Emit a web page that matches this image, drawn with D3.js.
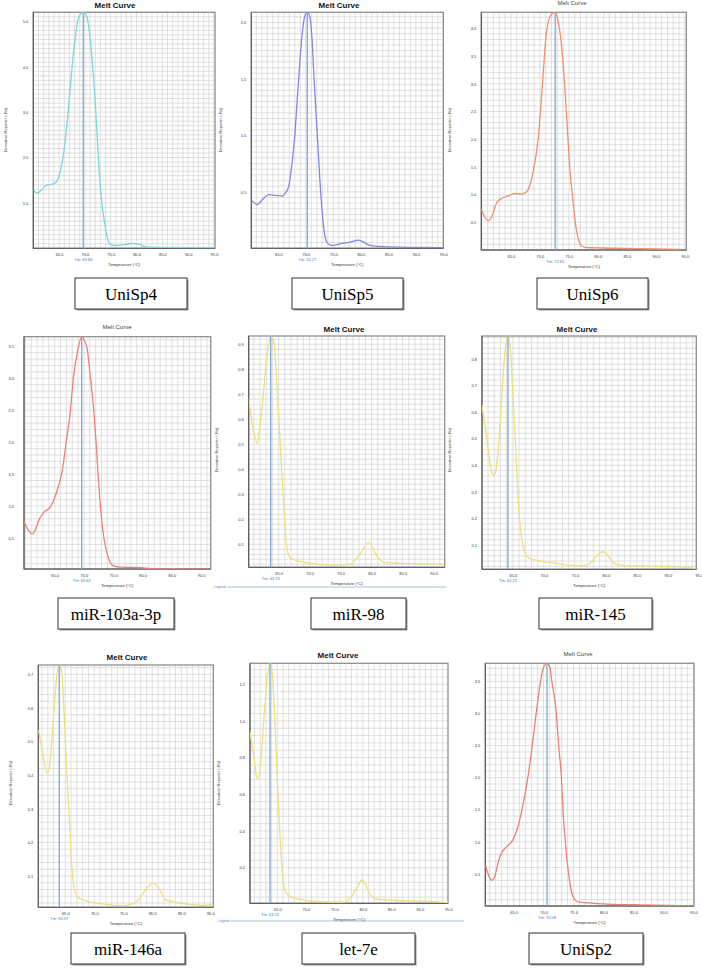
<!DOCTYPE html>
<html>
<head>
<meta charset="utf-8">
<script src="https://cdn.jsdelivr.net/npm/d3@7"></script>
<style>
  body { margin: 0; background: #fff; }
  svg { display: block; }
</style>
</head>
<body>
<script>
const width = 702;
const height = 968;

// sample names in reading order (3 x 3)
const names = ["UniSp4", "UniSp5", "UniSp6", "miR-103a-3p", "miR-98", "miR-145", "miR-146a", "let-7e", "UniSp2"];
const tmValues = [69.68, 70.27, 72.65, 69.62, 63.73, 64.21, 63.97, 63.72, 70.58];

// axis ranges and ticks
const xDomains = [[60.0, 95.2], [60.09, 95.0], [59.9, 95.25], [59.77, 91.63], [60.18, 91.8], [60.02, 94.6], [60.35, 90.52], [60.21, 94.95], [60.28, 95.1]];
const yDomains = [[0, 5.2], [0, 2.09], [0, 4.29], [0.015, 3.65], [0.008, 0.933], [0.009, 0.886], [0.007, 0.728], [0.006, 1.314], [0, 3.78]];
const xTicks = [
  [65, 70, 75, 80, 85, 90, 95], [65, 70, 75, 80, 85, 90, 95], [65, 70, 75, 80, 85, 90, 95],
  [65, 70, 75, 80, 85, 90], [65, 70, 75, 80, 85, 90], [65, 70, 75, 80, 85, 90, 95],
  [65, 70, 75, 80, 85, 90], [65, 70, 75, 80, 85, 90, 95], [65, 70, 75, 80, 85, 90, 95]
];
const yTicks = [
  [1, 2, 3, 4, 5],
  [0.5, 1, 1.5, 2],
  [0.5, 1, 1.5, 2, 2.5, 3, 3.5, 4],
  [0.5, 1, 1.5, 2, 2.5, 3, 3.5],
  [0.1, 0.2, 0.3, 0.4, 0.5, 0.6, 0.7, 0.8, 0.9],
  [0.1, 0.2, 0.3, 0.4, 0.5, 0.6, 0.7, 0.8],
  [0.1, 0.2, 0.3, 0.4, 0.5, 0.6, 0.7],
  [0.2, 0.4, 0.6, 0.8, 1.0, 1.2],
  [0.5, 1, 1.5, 2, 2.5, 3, 3.5]
];
const yGridSteps = [0.1, 0.05, 0.1, 0.1, 0.02, 0.02, 0.02, 0.04, 0.1];

// melt curves: [temperature, derivative reporter]
const uniSp4 = [[60.0, 1.28], [60.78, 1.22], [61.6, 1.29], [62.57, 1.39], [63.4, 1.41], [63.86, 1.42], [64.5, 1.47], [65.3, 1.73], [65.97, 2.17], [66.6, 2.83], [67.24, 3.64], [67.9, 4.44], [68.65, 5.03], [69.2, 5.17], [69.69, 5.2], [70.1, 5.16], [70.47, 5.07], [70.97, 4.66], [71.5, 4.0], [72.09, 3.05], [72.6, 2.0], [73.05, 1.28], [73.44, 0.85], [73.9, 0.49], [74.35, 0.23], [75.0, 0.085], [75.8, 0.06], [77.4, 0.075], [78.6, 0.1], [79.35, 0.11], [80.3, 0.095], [81.9, 0.032], [85.8, 0.02], [92.3, 0.01], [95.2, 0.008]];
const uniSp5 = [[60.09, 0.426], [61.2, 0.388], [62.1, 0.43], [63.3, 0.476], [64.5, 0.468], [65.7, 0.462], [66.3, 0.49], [66.9, 0.55], [67.5, 0.757], [68.0, 1.0], [68.4, 1.29], [68.7, 1.5], [69.3, 1.877], [69.8, 2.054], [70.27, 2.09], [70.7, 2.054], [71.1, 1.88], [71.5, 1.5], [72.1, 1.0], [72.7, 0.5], [73.3, 0.166], [73.9, 0.048], [74.7, 0.025], [76.2, 0.04], [78.0, 0.055], [79.6, 0.072], [80.5, 0.054], [81.7, 0.025], [84.1, 0.014], [90.2, 0.008], [95.0, 0.005]];
const uniSp6 = [[59.9, 0.735], [60.47, 0.6], [61.16, 0.53], [61.7, 0.6], [62.5, 0.84], [63.36, 0.93], [64.5, 0.975], [65.66, 1.02], [66.8, 1.01], [67.7, 1.05], [68.27, 1.17], [69.0, 1.5], [69.7, 2.0], [70.45, 3.0], [71.0, 3.79], [71.72, 4.21], [72.3, 4.28], [72.65, 4.29], [73.1, 4.15], [73.7, 3.73], [74.27, 3.0], [74.85, 2.0], [75.14, 1.5], [75.6, 1.0], [76.1, 0.5], [76.6, 0.21], [77.14, 0.078], [78.0, 0.045], [80.6, 0.036], [84.6, 0.03], [89.8, 0.02], [94.4, 0.01]];
const mir103a = [[59.77, 0.755], [60.5, 0.627], [61.1, 0.56], [61.7, 0.625], [62.3, 0.78], [63.1, 0.896], [64.3, 0.99], [65.1, 1.15], [65.7, 1.33], [66.3, 1.55], [66.96, 1.995], [67.7, 2.5], [68.2, 3.01], [68.96, 3.44], [69.62, 3.65], [70.0, 3.6], [70.5, 3.49], [71.1, 3.01], [71.67, 2.5], [72.07, 2.0], [72.4, 1.51], [72.8, 1.0], [73.4, 0.5], [74.1, 0.21], [74.8, 0.078], [75.6, 0.05], [76.3, 0.045], [79.7, 0.037], [81.4, 0.022], [84.3, 0.016], [91.6, 0.012]];
const mir98 = [[60.18, 0.684], [61.04, 0.544], [61.57, 0.504], [62.11, 0.597], [62.65, 0.73], [63.19, 0.864], [63.73, 0.933], [64.26, 0.904], [64.8, 0.704], [65.33, 0.477], [65.87, 0.237], [66.41, 0.077], [66.95, 0.044], [68.56, 0.031], [73.9, 0.017], [76.6, 0.021], [78.2, 0.064], [79.57, 0.108], [80.9, 0.051], [82.0, 0.028], [91.7, 0.02]];
const mir145 = [[60.02, 0.626], [60.45, 0.557], [60.9, 0.481], [61.27, 0.42], [61.65, 0.37], [61.97, 0.363], [62.35, 0.394], [62.7, 0.48], [63.13, 0.63], [63.56, 0.783], [64.0, 0.876], [64.21, 0.886], [64.6, 0.833], [65.0, 0.67], [65.43, 0.48], [65.8, 0.294], [66.2, 0.169], [66.67, 0.094], [67.3, 0.056], [68.5, 0.044], [71.2, 0.034], [73.9, 0.025], [76.3, 0.022], [77.4, 0.031], [78.4, 0.056], [79.5, 0.075], [80.3, 0.062], [81.4, 0.031], [83.0, 0.023], [87.3, 0.021], [92.1, 0.018], [93.7, 0.015], [94.5, 0.008]];
const mir146a = [[60.35, 0.535], [60.92, 0.485], [61.38, 0.435], [61.78, 0.408], [62.07, 0.41], [62.36, 0.435], [62.82, 0.535], [63.22, 0.634], [63.6, 0.703], [63.97, 0.728], [64.35, 0.713], [64.8, 0.584], [65.2, 0.435], [65.67, 0.277], [66.1, 0.138], [66.6, 0.058], [67.5, 0.033], [69.2, 0.023], [72.1, 0.016], [75.0, 0.012], [76.7, 0.018], [77.8, 0.033], [79.0, 0.063], [80.1, 0.078], [81.2, 0.063], [82.2, 0.03], [83.6, 0.023], [86.5, 0.016], [88.2, 0.013], [90.5, 0.016]];
const let7e = [[60.21, 0.941], [60.62, 0.86], [61.03, 0.77], [61.38, 0.696], [61.62, 0.682], [61.97, 0.733], [62.38, 0.895], [62.79, 1.077], [63.26, 1.241], [63.72, 1.314], [64.13, 1.259], [64.54, 1.023], [65.01, 0.678], [65.48, 0.369], [65.89, 0.169], [66.47, 0.069], [67.35, 0.042], [69.1, 0.027], [72.0, 0.015], [76.7, 0.012], [78.2, 0.051], [79.1, 0.096], [79.83, 0.133], [80.5, 0.105], [81.4, 0.051], [82.6, 0.027], [86.7, 0.02], [92.6, 0.015], [94.95, 0.009]];
const uniSp2 = [[60.28, 0.64], [60.83, 0.48], [61.38, 0.4], [61.83, 0.45], [62.38, 0.66], [62.94, 0.82], [63.78, 0.92], [64.88, 1.03], [65.72, 1.234], [66.4, 1.5], [67.38, 2.0], [68.23, 2.584], [68.9, 3.1], [69.73, 3.623], [70.18, 3.75], [70.58, 3.78], [71.02, 3.726], [71.38, 3.5], [72.13, 3.0], [72.52, 2.5], [72.98, 2.0], [73.24, 1.5], [73.63, 1.0], [74.18, 0.5], [74.74, 0.195], [75.2, 0.1], [75.74, 0.066], [77.38, 0.05], [80.78, 0.03], [85.28, 0.02], [90.78, 0.01], [95.0, 0.003]];

const curves = [uniSp4, uniSp5, uniSp6, mir103a, mir98, mir145, mir146a, let7e, uniSp2];
const curveColors = ["#7ad6db", "#8686e2", "#ee9070", "#ec8079", "#ebe07c", "#ebe07c", "#ebe07c", "#ebe07c", "#ea8072"];

// layout of each plot area
const frames = [
  { left: 33.3, top: 12.3, right: 215, bottom: 248.3, titleX: 115, titleY: 7.8, bold: true, yLab: [5, 130], yPad: 5 },
  { left: 251.3, top: 12.3, right: 443.3, bottom: 248.3, titleX: 339, titleY: 7.8, bold: true, yLab: [220, 130], yPad: 5 },
  { left: 481.3, top: 12.3, right: 686.3, bottom: 250, titleX: 572, titleY: 5, bold: false, yLab: [449, 130], yPad: 5 },
  { left: 24, top: 336.7, right: 210.7, bottom: 569, titleX: 117, titleY: 329, bold: false, yLab: null, yPad: 10 },
  { left: 248.7, top: 336, right: 444.7, bottom: 567.3, titleX: 344, titleY: 331.5, bold: true, yLab: [216.7, 450], yPad: 5 },
  { left: 482, top: 336, right: 696.3, bottom: 569.3, titleX: 577, titleY: 331.5, bold: true, yLab: [449, 450], yPad: 5 },
  { left: 38.3, top: 665, right: 213.3, bottom: 907.3, titleX: 127, titleY: 660, bold: true, yLab: [10, 783], yPad: 5 },
  { left: 250, top: 663.3, right: 448, bottom: 903.3, titleX: 338, titleY: 658.3, bold: true, yLab: [218, 783], yPad: 5 },
  { left: 485.3, top: 663.3, right: 694, bottom: 906, titleX: 578, titleY: 656, bold: false, yLab: null, yPad: 5 }
];
const boxes = [
  [75, 278], [292, 278], [537, 278],
  [58, 598], [311, 598], [539, 598],
  [71, 933], [302, 933], [529, 933]
];
const boxW = [112, 111, 111, 116, 95, 113, 114, 113, 114];

const svg = d3.select("body").append("svg");
svg.attr("width", width).attr("height", height);

const defs = svg.append("defs");
const fmt = d3.format(".1f");
const sans = "Liberation Sans, Arial, sans-serif";

frames.forEach((f, i) => {
  const x = d3.scaleLinear().domain(xDomains[i]).range([f.left, f.right]);
  const y = d3.scaleLinear().domain(yDomains[i]).range([f.bottom, f.top]);
  const g = svg.append("g");

  defs.append("clipPath").attr("id", "clip-" + i)
    .append("rect")
    .attr("x", f.left).attr("y", f.top - 1)
    .attr("width", f.right - f.left).attr("height", f.bottom - f.top + 1);

  // grid: 1 degree columns, fine rows
  const gx = d3.range(Math.ceil(xDomains[i][0]), Math.floor(xDomains[i][1]) + 1);
  g.append("g").selectAll("line").data(gx).join("line")
    .attr("x1", d => x(d)).attr("x2", d => x(d))
    .attr("y1", f.top).attr("y2", f.bottom)
    .attr("stroke", "#cdcdcd").attr("stroke-width", 0.6);

  const step = yGridSteps[i];
  const gy = d3.range(1, Math.floor(yDomains[i][1] / step + 1e-6) + 1).map(k => k * step)
    .filter(d => d > yDomains[i][0]);
  g.append("g").selectAll("line").data(gy).join("line")
    .attr("x1", f.left).attr("x2", f.right)
    .attr("y1", d => y(d)).attr("y2", d => y(d))
    .attr("stroke", "#cdcdcd").attr("stroke-width", 0.6);

  // frame
  g.append("rect")
    .attr("x", f.left).attr("y", f.top)
    .attr("width", f.right - f.left).attr("height", f.bottom - f.top)
    .attr("fill", "none").attr("stroke", "#8e8e8e").attr("stroke-width", 1.3);
  g.append("path")
    .attr("d", `M${f.left},${f.top}V${f.bottom}H${f.right}`)
    .attr("fill", "none").attr("stroke", "#555").attr("stroke-width", 1);

  // melt curve
  const line = d3.line().x(d => x(d[0])).y(d => y(d[1])).curve(d3.curveMonotoneX);
  g.append("path")
    .datum(curves[i])
    .attr("clip-path", `url(#clip-${i})`)
    .attr("d", line)
    .attr("fill", "none")
    .attr("stroke", curveColors[i])
    .attr("stroke-width", 1.3);

  // Tm marker
  g.append("line")
    .attr("x1", x(tmValues[i])).attr("x2", x(tmValues[i]))
    .attr("y1", f.top).attr("y2", f.bottom)
    .attr("stroke", "#7ea8d8").attr("stroke-width", 1.3);
  g.append("text")
    .attr("x", x(tmValues[i])).attr("y", f.bottom + 12.5)
    .attr("text-anchor", "middle")
    .attr("font-family", sans).attr("font-size", 4)
    .attr("fill", "#3d78c0")
    .text("Tm: " + d3.format(".2f")(tmValues[i]));

  // axes
  const ax = g.append("g")
    .attr("transform", `translate(0,${f.bottom})`)
    .call(d3.axisBottom(x).tickValues(xTicks[i]).tickFormat(fmt).tickSize(0).tickPadding(5));
  ax.select(".domain").remove();
  ax.selectAll("text").attr("font-family", sans).attr("font-size", 4).attr("fill", "#333");

  const ay = g.append("g")
    .attr("transform", `translate(${f.left},0)`)
    .call(d3.axisLeft(y).tickValues(yTicks[i]).tickFormat(fmt).tickSize(0).tickPadding(f.yPad));
  ay.select(".domain").remove();
  ay.selectAll("text").attr("font-family", sans).attr("font-size", 4).attr("fill", "#333");

  // titles
  g.append("text")
    .attr("x", f.titleX).attr("y", f.titleY)
    .attr("text-anchor", "middle")
    .attr("font-family", sans)
    .attr("font-size", f.bold ? 8 : 6)
    .attr("font-weight", f.bold ? "bold" : "normal")
    .attr("fill", f.bold ? "#111" : "#444")
    .text("Melt Curve");

  g.append("text")
    .attr("x", (f.left + f.right) / 2).attr("y", f.bottom + 17.5)
    .attr("text-anchor", "middle")
    .attr("font-family", sans).attr("font-size", 4.2)
    .attr("fill", "#333")
    .text("Temperature (°C)");

  if (f.yLab) {
    g.append("text")
      .attr("transform", `translate(${f.yLab[0] + 1.5},${f.yLab[1]}) rotate(-90)`)
      .attr("text-anchor", "middle")
      .attr("font-family", sans).attr("font-size", 4)
      .attr("fill", "#444")
      .text("Derivative Reporter (-Rn)");
  }
});

// stray legend strips under the middle charts
[[212, 446, 587], [216, 464, 921]].forEach(([x0, x1, yy]) => {
  svg.append("text")
    .attr("x", x0).attr("y", yy + 1.3)
    .attr("font-family", sans).attr("font-size", 3.5)
    .attr("fill", "#5b8cc4")
    .text("- Legend");
  svg.append("line")
    .attr("x1", x0 + 15).attr("x2", x1)
    .attr("y1", yy).attr("y2", yy)
    .attr("stroke", "#9dbcdb").attr("stroke-width", 0.9);
});

// name boxes
const lab = svg.append("g")
  .selectAll("g")
  .data(names)
  .join("g")
  .attr("transform", (d, i) => `translate(${boxes[i][0]},${boxes[i][1]})`);

lab.append("rect")
  .attr("x", 1.5).attr("y", 1.5)
  .attr("width", (d, i) => boxW[i]).attr("height", 31)
  .attr("fill", "#9a9a9a");
lab.append("rect")
  .attr("width", (d, i) => boxW[i]).attr("height", 31)
  .attr("fill", "#fff").attr("stroke", "#333").attr("stroke-width", 1);
lab.append("text")
  .attr("x", (d, i) => boxW[i] / 2).attr("y", 21.5)
  .attr("text-anchor", "middle")
  .attr("font-family", "Liberation Serif, Times New Roman, serif")
  .attr("font-size", 17)
  .attr("fill", "#000")
  .text(d => d);
</script>
</body>
</html>
